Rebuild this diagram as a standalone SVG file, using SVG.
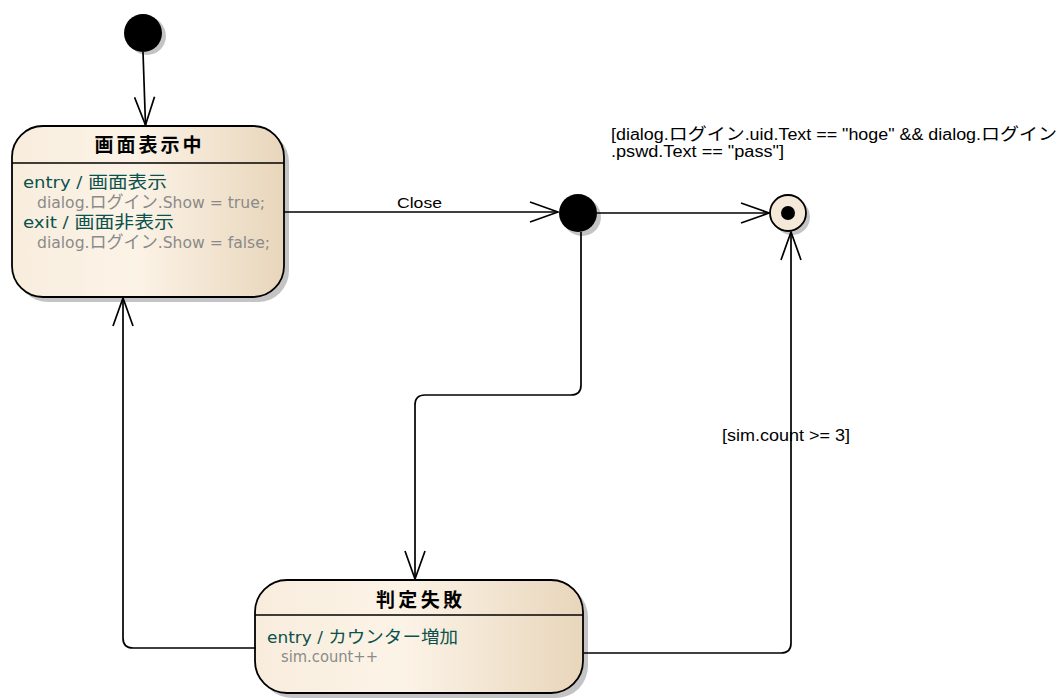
<svg xmlns="http://www.w3.org/2000/svg" width="1060" height="700" viewBox="0 0 1060 700">
<style>
.box{stroke:#000;stroke-width:1.8}
.shadow{fill:#c4c4c4}
.div{stroke:#000;stroke-width:1.5}
.title{font-family:"Noto Sans CJK JP","Liberation Sans",sans-serif;font-weight:bold;font-size:19px;fill:#000}
.beh{font-family:"DejaVu Sans","Noto Sans CJK JP",sans-serif;font-size:16px;fill:#0b524d}
.act{font-family:"DejaVu Sans","Noto Sans CJK JP",sans-serif;font-size:16px;fill:#8a8a8a}
.jp{font-size:17.5px}
.lbl{font-family:"Liberation Sans","Noto Sans CJK JP",sans-serif;font-size:15px;fill:#000}
.guard{font-family:"Liberation Sans","Noto Sans CJK JP",sans-serif;font-size:16px;fill:#000}
.conn{fill:none;stroke:#000;stroke-width:1.7}
</style>
<defs>
<linearGradient id="cream" x1="0" y1="0" x2="1" y2="0">
<stop offset="0" stop-color="#f8eddd"/>
<stop offset="0.45" stop-color="#fcf3e7"/>
<stop offset="1" stop-color="#e8d6bb"/>
</linearGradient>
<marker id="open" viewBox="0 0 30 22" markerWidth="30" markerHeight="22" refX="29" refY="11" orient="auto" markerUnits="userSpaceOnUse">
<path d="M1,1 L29,11 L1,21" fill="none" stroke="#000" stroke-width="1.7"/>
</marker>
</defs>

<g id="initial">
<circle cx="147" cy="36" r="19" class="shadow"/>
<circle cx="143" cy="33" r="19" fill="#000"/>
</g>

<g id="state-gamen-hyoji">
<rect x="17" y="131" width="272" height="171" rx="31" class="shadow"/>
<rect x="12" y="126" width="272" height="171" rx="31" fill="url(#cream)" class="box"/>
<line x1="12" y1="163" x2="284" y2="163" class="div"/>
<text x="148" y="152" text-anchor="middle" class="title" textLength="107" lengthAdjust="spacing">画面表示中</text>
<text x="23" y="188" class="beh" textLength="144" lengthAdjust="spacingAndGlyphs">entry / <tspan class="jp">画面表示</tspan></text>
<text x="37" y="208" class="act" textLength="228" lengthAdjust="spacingAndGlyphs">dialog.<tspan class="jp">ログイン</tspan>.Show = true;</text>
<text x="23" y="228" class="beh" textLength="151" lengthAdjust="spacingAndGlyphs">exit / <tspan class="jp">画面非表示</tspan></text>
<text x="37" y="248" class="act" textLength="233" lengthAdjust="spacingAndGlyphs">dialog.<tspan class="jp">ログイン</tspan>.Show = false;</text>
</g>

<g id="choice">
<circle cx="582" cy="217" r="19" class="shadow"/>
<circle cx="578" cy="213" r="19" fill="#000"/>
</g>

<g id="final">
<circle cx="792" cy="217" r="18" class="shadow"/>
<circle cx="788" cy="213" r="18" fill="#f4e9d8" stroke="#000" stroke-width="1.8"/>
<circle cx="788" cy="213" r="7" fill="#000"/>
</g>

<g id="state-hantei-shippai">
<rect x="260" y="585" width="328" height="113" rx="32" class="shadow"/>
<rect x="255" y="580" width="328" height="113" rx="32" fill="url(#cream)" class="box"/>
<line x1="255" y1="615" x2="583" y2="615" class="div"/>
<text x="419" y="607" text-anchor="middle" class="title" textLength="86" lengthAdjust="spacing">判定失敗</text>
<text x="267" y="643" class="beh" textLength="191" lengthAdjust="spacingAndGlyphs">entry / <tspan class="jp">カウンター増加</tspan></text>
<text x="281" y="662" class="act" textLength="97" lengthAdjust="spacingAndGlyphs">sim.count++</text>
</g>

<g id="connectors">
<path d="M143,52 L145.5,125" class="conn" marker-end="url(#open)"/>
<path d="M284,212 L558,212" class="conn" marker-end="url(#open)"/>
<text x="397" y="208" class="lbl" textLength="45" lengthAdjust="spacingAndGlyphs">Close</text>
<path d="M597,213 L769,213" class="conn" marker-end="url(#open)"/>
<text x="611" y="140" class="guard" textLength="446" lengthAdjust="spacingAndGlyphs">[dialog.<tspan font-size="17">ログイン</tspan>.uid.Text == "hoge" &amp;&amp; dialog.<tspan font-size="17">ログイン</tspan></text>
<text x="611" y="157" class="guard" textLength="173" lengthAdjust="spacingAndGlyphs">.pswd.Text == "pass"]</text>
<path d="M581,232 V385 Q581,395 571,395 H425 Q415,395 415,405 V579" class="conn" marker-end="url(#open)"/>
<path d="M584,653 H781 Q791,653 791,643 V232" class="conn" marker-end="url(#open)"/>
<text x="722" y="441" class="guard" textLength="128" lengthAdjust="spacingAndGlyphs">[sim.count &gt;= 3]</text>
<path d="M256,648 H133 Q123,648 123,638 V298" class="conn" marker-end="url(#open)"/>
</g>
</svg>
